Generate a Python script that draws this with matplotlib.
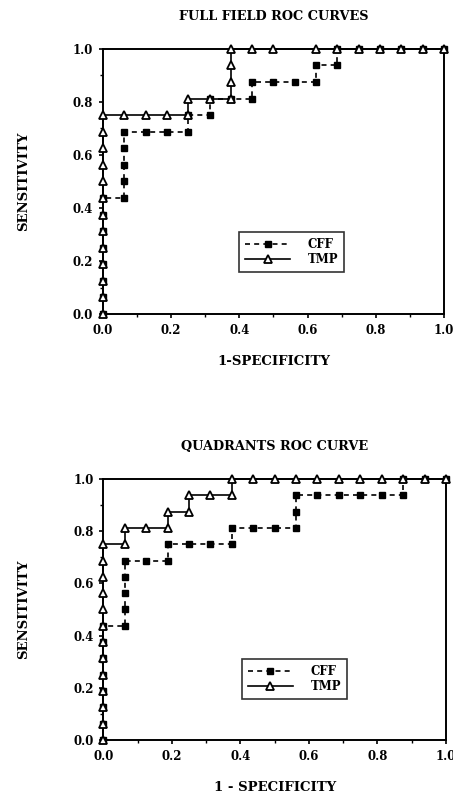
import matplotlib
matplotlib.use("Agg")
import matplotlib.pyplot as plt
from matplotlib.ticker import MultipleLocator
import numpy as np

# ---- data (in units of 1/16) ----
ff_cff_x = [0, 0, 0, 0, 0, 0, 0, 0, 1, 1, 1, 1, 1, 2, 3, 4, 4, 5, 5, 6, 7, 7, 8, 9, 10, 10, 11, 11, 12, 13, 14, 15, 16]
ff_cff_y = [0, 1, 2, 3, 4, 5, 6, 7, 7, 8, 9, 10, 11, 11, 11, 11, 12, 12, 13, 13, 13, 14, 14, 14, 14, 15, 15, 16, 16, 16, 16, 16, 16]
ff_tmp_x = [0, 0, 0, 0, 0, 0, 0, 0, 0, 0, 0, 0, 0, 1, 2, 3, 4, 4, 5, 6, 6, 6, 6, 7, 8, 10, 11, 12, 13, 14, 15, 16]
ff_tmp_y = [0, 1, 2, 3, 4, 5, 6, 7, 8, 9, 10, 11, 12, 12, 12, 12, 12, 13, 13, 13, 14, 15, 16, 16, 16, 16, 16, 16, 16, 16, 16, 16]

q_cff_x = [0, 0, 0, 0, 0, 0, 0, 0, 1, 1, 1, 1, 1, 2, 3, 3, 4, 5, 6, 6, 7, 8, 9, 9, 9, 10, 11, 12, 13, 14, 14, 15, 16]
q_cff_y = [0, 1, 2, 3, 4, 5, 6, 7, 7, 8, 9, 10, 11, 11, 11, 12, 12, 12, 12, 13, 13, 13, 13, 14, 15, 15, 15, 15, 15, 15, 16, 16, 16]
q_tmp_x = [0, 0, 0, 0, 0, 0, 0, 0, 0, 0, 0, 0, 0, 1, 1, 2, 3, 3, 4, 4, 5, 6, 6, 7, 8, 9, 10, 11, 12, 13, 14, 15, 16]
q_tmp_y = [0, 1, 2, 3, 4, 5, 6, 7, 8, 9, 10, 11, 12, 12, 13, 13, 13, 14, 14, 15, 15, 15, 16, 16, 16, 16, 16, 16, 16, 16, 16, 16, 16]

titles = ["FULL FIELD ROC CURVES", "QUADRANTS ROC CURVE"]
xlabels = ["1-SPECIFICITY", "1 - SPECIFICITY"]
ylabel = "SENSITIVITY"
series_names = ["CFF", "TMP"]
tick_vals = [0.0, 0.2, 0.4, 0.6, 0.8, 1.0]
tick_labels = ["0.0", "0.2", "0.4", "0.6", "0.8", "1.0"]

plt.rcParams['font.family'] = ['DejaVu Serif']
plt.rcParams['font.weight'] = 'bold'

fig = plt.figure(figsize=(4.53, 7.95), dpi=100)
ax1 = fig.add_axes([0.2274, 0.605, 0.7526, 0.3336])
ax2 = fig.add_axes([0.2280, 0.0692, 0.7565, 0.3283])

datasets = [
    (ax1, ff_cff_x, ff_cff_y, ff_tmp_x, ff_tmp_y, titles[0], xlabels[0], (0.40, 0.31)),
    (ax2, q_cff_x, q_cff_y, q_tmp_x, q_tmp_y, titles[1], xlabels[1], (0.405, 0.31)),
]

for ax, cx, cy, tx, ty, title, xl, anchor in datasets:
    cx = np.array(cx) / 16.0
    cy = np.array(cy) / 16.0
    tx = np.array(tx) / 16.0
    ty = np.array(ty) / 16.0
    ax.plot(cx, cy, linestyle=(0, (3, 2.5)), color='black', lw=1.2,
            marker='s', markersize=4.8, markerfacecolor='black',
            markeredgecolor='black', clip_on=False, zorder=3, label=series_names[0])
    ax.plot(tx, ty, linestyle='-', color='black', lw=1.2,
            marker='^', markersize=5.8, markerfacecolor='white',
            markeredgecolor='black', markeredgewidth=1.3, clip_on=False, zorder=4,
            label=series_names[1])
    ax.set_xlim(0, 1)
    ax.set_ylim(0, 1)
    ax.set_xticks(tick_vals)
    ax.set_xticklabels(tick_labels)
    ax.set_yticks(tick_vals)
    ax.set_yticklabels(tick_labels)
    ax.xaxis.set_minor_locator(MultipleLocator(0.1))
    ax.yaxis.set_minor_locator(MultipleLocator(0.1))
    ax.tick_params(which='major', direction='out', length=3, width=1.2, labelsize=8.5, pad=4)
    ax.tick_params(which='minor', direction='out', length=2, width=1.0)
    for sp in ax.spines.values():
        sp.set_linewidth(1.4)
    ax.set_title(title, fontsize=9.3, fontweight='bold', pad=21)
    ax.set_xlabel(xl, fontsize=9.5, fontweight='bold', labelpad=13)
    ax.set_ylabel(ylabel, fontsize=9.5, fontweight='bold', labelpad=31)
    leg = ax.legend(loc='upper left', bbox_to_anchor=anchor, frameon=True,
                    fancybox=False, edgecolor='black', fontsize=8.5,
                    handlelength=3.8, borderpad=0.5, labelspacing=0.2,
                    handletextpad=1.5, borderaxespad=0)
    leg.get_frame().set_linewidth(1.2)

fig.savefig("out.png", dpi=100)
